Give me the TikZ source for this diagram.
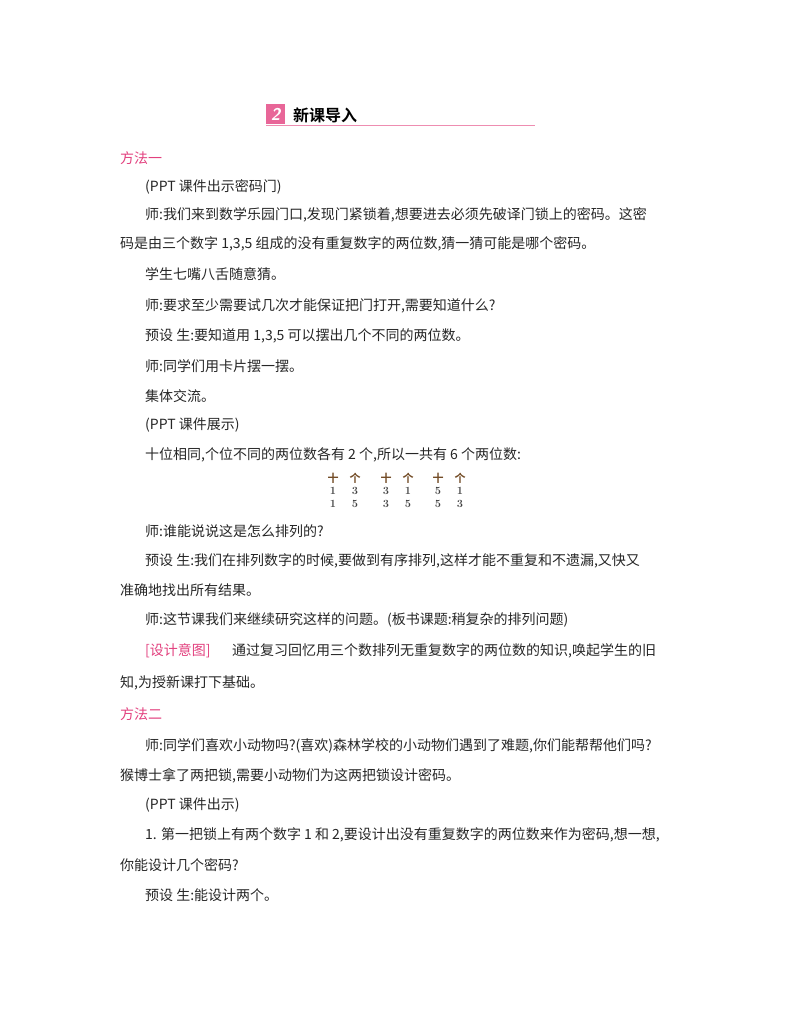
\documentclass[tikz,border=0pt]{standalone}
\usepackage{fontspec}
\newfontfamily\cjk{Noto Sans CJK SC}
\newfontfamily\cjkb{Noto Sans CJK SC Bold}
\definecolor{pk}{HTML}{E2407E}
\begin{document}
\begin{tikzpicture}[x=1pt,y=-1pt,
  tx/.style={anchor=west,inner sep=0pt,font=\cjk\fontsize{14}{14}\selectfont,text=black!85},
  hd/.style={tx,text=pk},
  tb/.style={inner sep=0pt,font=\fontsize{11}{11}\selectfont\bfseries,text=black!75}]
\useasboundingbox (0,0) rectangle (800,1028);
\fill[pk!80] (266,104) rectangle (285,124);
\node[inner sep=0pt,text=white,font=\sffamily\bfseries\itshape\fontsize{17}{17}\selectfont] (n2) at (275.5,114) {2};
\node[tx,font=\cjkb\fontsize{16}{16}\selectfont,text=black] (h) at (293,115) {新课导入};
\draw[pk!60,line width=0.8pt] (266,125.5) -- (535,125.5);
\node[hd] (a1) at (120,158) {方法一};
\node[tx] (a2) at (145,187) {(PPT 课件出示密码门)};
\node[tx] (a3) at (145,215) {师:我们来到数学乐园门口,发现门紧锁着,想要进去必须先破译门锁上的密码。这密};
\node[tx] (a4) at (120,244) {码是由三个数字 1,3,5 组成的没有重复数字的两位数,猜一猜可能是哪个密码。};
\node[tx] (a5) at (145,274) {学生七嘴八舌随意猜。};
\node[tx] (a6) at (145,306) {师:要求至少需要试几次才能保证把门打开,需要知道什么?};
\node[tx] (a7) at (145,336) {预设\ 生:要知道用 1,3,5 可以摆出几个不同的两位数。};
\node[tx] (a8) at (145,366) {师:同学们用卡片摆一摆。};
\node[tx] (a9) at (145,396) {集体交流。};
\node[tx] (a10) at (145,425) {(PPT 课件展示)};
\node[tx] (a11) at (145,455) {十位相同,个位不同的两位数各有 2 个,所以一共有 6 个两位数:};
\foreach \x/\p/\q [count=\i] in {333/1/1,386/3/3,438/5/5}{
  \node[tb,font=\cjkb\fontsize{11}{11}\selectfont,text=brown!60!black] (t\i a) at (\x,478) {十};
  \node[tb,font=\cjkb\fontsize{11}{11}\selectfont,text=brown!60!black] (t\i b) at (\x+22,478) {个};
  \node[tb] (t\i c) at (\x,491) {\p};
  \node[tb] (t\i e) at (\x,504) {\q};}
\node[tb] (u1) at (355,491) {3}; \node[tb] (u2) at (355,504) {5};
\node[tb] (u3) at (408,491) {1}; \node[tb] (u4) at (408,504) {5};
\node[tb] (u5) at (460,491) {1}; \node[tb] (u6) at (460,504) {3};
\node[tx] (b1) at (145,531) {师:谁能说说这是怎么排列的?};
\node[tx] (b2) at (145,561) {预设\ 生:我们在排列数字的时候,要做到有序排列,这样才能不重复和不遗漏,又快又};
\node[tx] (b3) at (120,590) {准确地找出所有结果。};
\node[tx] (b4) at (145,620) {师:这节课我们来继续研究这样的问题。(板书课题:稍复杂的排列问题)};
\node[hd] (b5) at (145,651) {[设计意图]};
\node[tx] (b6) at (232,651) {通过复习回忆用三个数排列无重复数字的两位数的知识,唤起学生的旧};
\node[tx] (b7) at (120,683) {知,为授新课打下基础。};
\node[hd] (c1) at (120,714) {方法二};
\node[tx] (c2) at (145,746) {师:同学们喜欢小动物吗?(喜欢)森林学校的小动物们遇到了难题,你们能帮帮他们吗?};
\node[tx] (c3) at (120,776) {猴博士拿了两把锁,需要小动物们为这两把锁设计密码。};
\node[tx] (c4) at (145,805) {(PPT 课件出示)};
\node[tx] (c5) at (145,835) {1. 第一把锁上有两个数字 1 和 2,要设计出没有重复数字的两位数来作为密码,想一想,};
\node[tx] (c6) at (120,865) {你能设计几个密码?};
\node[tx] (c7) at (145,895) {预设\ 生:能设计两个。};
\end{tikzpicture}
\end{document}
